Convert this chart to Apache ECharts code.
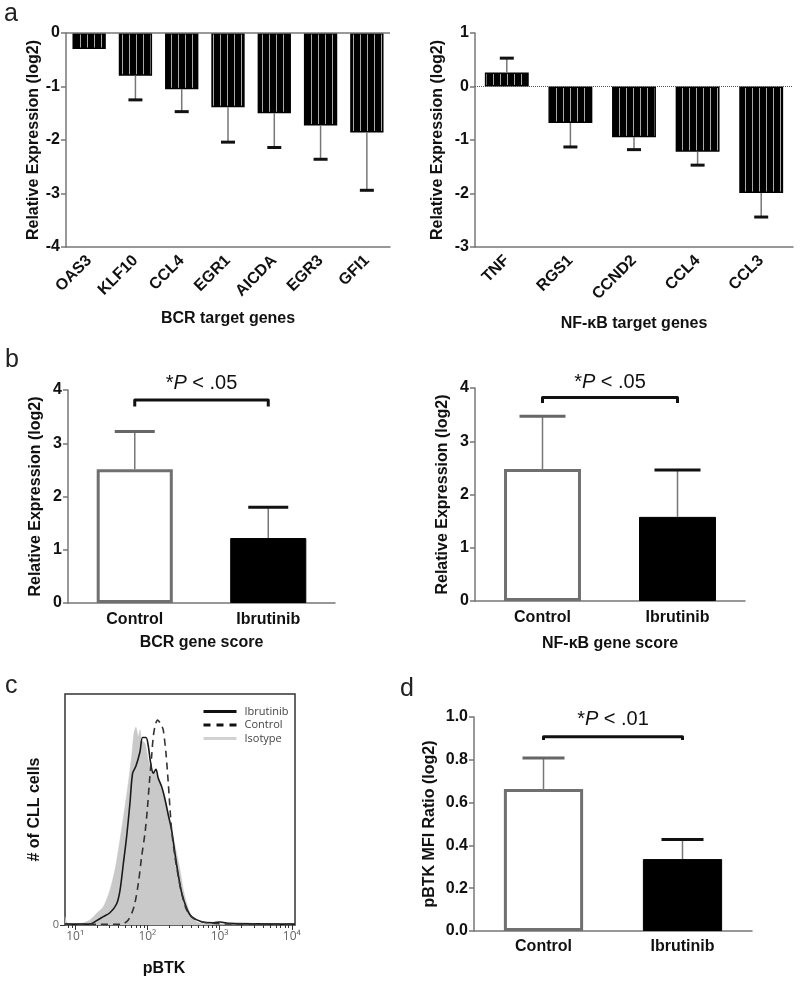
<!DOCTYPE html>
<html><head><meta charset="utf-8">
<script src="https://cdn.jsdelivr.net/npm/echarts@6/dist/echarts.min.js"></script>
<style>html,body{margin:0;padding:0;background:#fff}#c{width:800px;height:985px}</style>
</head><body><div id="c"></div>
<script>
// ---------- Panel a (left): BCR target genes ----------
const bcrGenes = ['OAS3','KLF10','CCL4','EGR1','AICDA','EGR3','GFI1'];
const bcrMeans = [-0.30,-0.80,-1.05,-1.39,-1.50,-1.73,-1.86];
const bcrErrEnds = [null,-1.25,-1.47,-2.04,-2.14,-2.36,-2.94];
// ---------- Panel a (right): NF-kB target genes ----------
const nfkbGenes = ['TNF','RGS1','CCND2','CCL4','CCL3'];
const nfkbMeans = [0.26,-0.68,-0.95,-1.22,-1.99];
const nfkbErrEnds = [0.53,-1.13,-1.18,-1.47,-2.44];
// ---------- Panel b ----------
const groups = ['Control','Ibrutinib'];
const bcrScoreMeans = [2.51,1.22];
const bcrScoreErrEnds = [3.22,1.80];
const nfkbScoreMeans = [2.48,1.58];
const nfkbScoreErrEnds = [3.47,2.46];
// ---------- Panel d ----------
const pbtkMeans = [0.663,0.336];
const pbtkErrEnds = [0.808,0.428];
// ---------- P-value labels ----------
const pThresholds = ['.05','.05','.01'];
// ---------- Panel c: pBTK histograms (x = log10 intensity, y = relative count %) ----------
const ibrutinibLog = [0.859,1.205,1.297,1.390,1.482,1.574,1.621,1.667,1.713,1.759,1.796,1.842,1.898,1.934,1.981,2.013,2.045,2.082,2.119,2.151,2.198,2.244,2.290,2.336,2.382,2.429,2.475,2.544,2.613,2.752,2.913,3.006,3.144,4.044];
const ibrutinibCount = [0.4,0.4,1.9,3.6,5.3,9.1,14.9,26.4,38.2,52.7,65.7,68.8,75.0,81.2,81.2,77.5,70.3,65.7,67.4,63.5,59.9,54.4,47.6,41.1,31.0,21.6,14.0,7.2,3.6,1.4,1.0,1.3,0.7,0.4];
const controlLog = [0.859,1.344,1.528,1.644,1.736,1.815,1.875,1.921,1.967,1.999,2.027,2.059,2.082,2.110,2.142,2.175,2.207,2.221,2.258,2.290,2.336,2.382,2.429,2.475,2.544,2.636,2.821,3.190,4.044];
const controlCount = [0.3,0.3,0.3,0.4,2.2,7.9,18.0,29.6,39.7,49.8,61.3,72.9,81.5,86.6,88.7,87.6,85.6,84.4,74.3,61.3,41.1,29.6,20.9,13.7,6.5,2.9,1.0,0.4,0.4];
const isotypeLog = [0.859,0.905,1.067,1.205,1.297,1.390,1.482,1.551,1.621,1.690,1.736,1.782,1.815,1.842,1.875,1.898,1.921,1.967,2.013,2.059,2.105,2.151,2.221,2.267,2.336,2.406,2.452,2.498,2.544,2.613,2.682,2.775,4.044];
const isotypeCount = [3.6,0.7,0.7,2.2,5.1,7.9,15.2,23.8,36.8,51.2,61.3,72.9,83.0,85.6,81.5,84.4,80.1,78.6,71.4,67.1,66.4,62.8,58.4,52.7,41.1,31.0,23.8,15.2,9.4,3.6,1.4,0.7,0.4];
const logMajorTicks = [1,2,3,4];
const supDigits = {1:'¹',2:'²',3:'³',4:'⁴'};

const F = '"Liberation Sans", Arial, sans-serif';
const zip = (a,b) => a.map((v,i)=>[v,b[i]]);
const minorTicks = [];
for (let e=0;e<4;e++) for (let k=2;k<=9;k++){ const v=e+Math.log10(k); if (v>0.86 && v<4.04) minorTicks.push(v); }

// striped fill for panel a bars
const pc = document.createElement('canvas'); pc.width=7; pc.height=8;
const cx = pc.getContext('2d'); cx.fillStyle='#000'; cx.fillRect(0,0,7,8); cx.fillStyle='#a8a8a8'; cx.fillRect(3,0,1,8);
const stripe = {image: pc, repeat: 'repeat'};

const axisGray = '#777';
function yAx(g, min, max, interval, name, nameGap, fmt){
  return {type:'value', gridIndex:g, min, max, interval, name, nameLocation:'middle', nameGap,
    nameTextStyle:{fontFamily:F, fontWeight:'bold', fontSize:16, color:'#111'},
    axisLine:{show:true, lineStyle:{color:axisGray, width:1.5}},
    axisTick:{show:true, length:5, lineStyle:{color:axisGray, width:1.5}},
    axisLabel:{fontFamily:F, fontWeight:'bold', fontSize:16, color:'#111', margin:6, formatter: fmt},
    splitLine:{show:false}};
}
function xCat(g, data, name, nameGap, rotate, margin){
  return {type:'category', gridIndex:g, data, name, nameLocation:'middle', nameGap,
    nameTextStyle:{fontFamily:F, fontWeight:'bold', fontSize:16, color:'#111'},
    axisLine:{onZero:false, lineStyle:{color:axisGray, width:1.5}},
    axisTick:{alignWithLabel:true, length:6, lineStyle:{color:axisGray, width:1.5}},
    axisLabel:{interval:0, rotate, margin, fontFamily:F, fontWeight:'bold', fontSize:16, color:'#111'}};
}
function errSeries(g, means, ends, capHalf, capColors){
  const data=[]; means.forEach((m,i)=>{ if(ends[i]!=null) data.push([i,m,ends[i]]); });
  return {type:'custom', xAxisIndex:g, yAxisIndex:g, data, z:5, silent:true,
    renderItem(params, api){
      const x=api.value(0);
      const p0=api.coord([x,api.value(1)]), p1=api.coord([x,api.value(2)]);
      return {type:'group', children:[
        {type:'line', shape:{x1:p0[0],y1:p0[1],x2:p1[0],y2:p1[1]}, style:{stroke:'#777', lineWidth:1.5}},
        {type:'line', shape:{x1:p1[0]-capHalf,y1:p1[1],x2:p1[0]+capHalf,y2:p1[1]}, style:{stroke:capColors[x], lineWidth:3}}
      ]};
    }};
}
function bracketSeries(g, top, drop, textY, pth){
  return {type:'custom', xAxisIndex:g, yAxisIndex:g, data:[[0,1,top,drop,textY]], z:6, silent:true,
    renderItem(params, api){
      const a=api.coord([api.value(0),api.value(2)]), b=api.coord([api.value(1),api.value(2)]);
      const d=api.coord([api.value(0),api.value(3)]), t=api.coord([api.value(0),api.value(4)]);
      return {type:'group', children:[
        {type:'polyline', shape:{points:[[a[0],d[1]],[a[0],a[1]],[b[0],b[1]],[b[0],d[1]]]}, style:{stroke:'#111', lineWidth:3, fill:null, lineJoin:'round'}},
        {type:'text', x:(a[0]+b[0])/2, y:t[1], style:{text:'{n|*}{i|P}{n| < '+pth+'}', align:'center', verticalAlign:'middle',
          rich:{n:{fontFamily:F, fontSize:20, fill:'#111'}, i:{fontFamily:F, fontSize:20, fontStyle:'italic', fill:'#111'}}}}
      ]};
    }};
}
const twoBar = (means)=>[
  {value:means[0], itemStyle:{color:'#fff', borderColor:'#707070', borderWidth:3}},
  {value:means[1], itemStyle:{color:'#000', borderColor:'#000', borderWidth:1}}];

const hiddenSym = {color:'rgba(0,0,0,0)', borderColor:'rgba(0,0,0,0)', borderWidth:0, opacity:0};
const option = {
  animation:false,
  grid:[
    {left:66, top:33, width:324, height:214},
    {left:475, top:33, width:318, height:214},
    {left:68, top:390, width:267, height:213},
    {left:475, top:388, width:270, height:213},
    {left:65, top:694, width:230, height:231, show:true, borderColor:'#333', borderWidth:1.5},
    {left:474, top:717, width:278, height:214}
  ],
  xAxis:[
    xCat(0, bcrGenes, 'BCR target genes', 64, 45, 11),
    xCat(1, nfkbGenes, 'NF-κB target genes', 69, 45, 11),
    xCat(2, groups, 'BCR gene score', 32, 0, 9),
    xCat(3, groups, 'NF-κB gene score', 35, 0, 9),
    {type:'value', gridIndex:4, position:'bottom', min:0.86, max:4.044, name:'pBTK', nameLocation:'middle', nameGap:36,
      nameTextStyle:{fontFamily:F, fontWeight:'bold', fontSize:16, color:'#111', padding:[0,32,0,0]},
      axisLine:{show:false}, splitLine:{show:false},
      axisTick:{show:true, length:5, customValues:logMajorTicks, lineStyle:{color:'#333', width:1}},
      axisLabel:{customValues:logMajorTicks, formatter:v=>'10'+supDigits[Math.round(v)], fontFamily:'"Open Sans", sans-serif', fontSize:12, color:'#666', margin:6}},
    xCat(5, groups, null, 0, 0, 8),
    {type:'value', gridIndex:4, position:'bottom', offset:0, min:0.86, max:4.044, axisLine:{show:false}, splitLine:{show:false},
      axisTick:{show:true, length:3, customValues:minorTicks, lineStyle:{color:'#333', width:1}},
      axisLabel:{show:false}}
  ],
  yAxis:[
    yAx(0,-4,0,1,'Relative Expression (log2)',24),
    yAx(1,-3,1,1,'Relative Expression (log2)',29),
    yAx(2,0,4,1,'Relative Expression (log2)',24),
    yAx(3,0,4,1,'Relative Expression (log2)',24),
    {type:'value', gridIndex:4, min:0, max:100, name:'# of CLL cells', nameLocation:'middle', nameGap:22,
      nameTextStyle:{fontFamily:F, fontWeight:'bold', fontSize:16, color:'#111'},
      axisLine:{show:false}, splitLine:{show:false},
      axisTick:{show:true, length:5, customValues:[0], lineStyle:{color:'#333'}},
      axisLabel:{customValues:[0], formatter:()=> '0', fontFamily:'"Open Sans", sans-serif', fontSize:11, color:'#666', margin:6}},
    yAx(5,0,1,0.2,'pBTK MFI Ratio (log2)',36, v=>v.toFixed(1))
  ],
  legend:{orient:'vertical', left:197, top:701, itemWidth:33, itemHeight:10, itemGap:2.5, selectedMode:false,
    textStyle:{fontFamily:'"Open Sans", sans-serif', fontSize:11, color:'#444', padding:[0,0,0,3]},
    data:[
      {name:'Ibrutinib', itemStyle:hiddenSym, lineStyle:{width:3, color:'#111', type:'solid'}},
      {name:'Control', itemStyle:hiddenSym, lineStyle:{width:3, color:'#111', type:[7,6]}},
      {name:'Isotype', itemStyle:hiddenSym, lineStyle:{width:3, color:'#d2d2d2', type:'solid'}}
    ]},
  graphic:[
    {type:'text', left:4, top:2, style:{text:'a', fontFamily:F, fontSize:25, fill:'#222'}},
    {type:'text', left:5, top:348, style:{text:'b', fontFamily:F, fontSize:25, fill:'#222'}},
    {type:'text', left:5, top:674, style:{text:'c', fontFamily:F, fontSize:25, fill:'#222'}},
    {type:'text', left:400, top:677, style:{text:'d', fontFamily:F, fontSize:25, fill:'#222'}}
  ],
  series:[
    {type:'bar', xAxisIndex:0, yAxisIndex:0, data:bcrMeans, barWidth:'72%',
      itemStyle:{color:stripe, borderColor:'#000', borderWidth:1.5},
      markLine:{silent:true, symbol:'none', label:{show:false}, lineStyle:{type:'solid', color:axisGray, width:1.5}, data:[{yAxis:0}]}},
    errSeries(0, bcrMeans, bcrErrEnds, 7, bcrGenes.map(()=> '#111')),
    {type:'bar', xAxisIndex:1, yAxisIndex:1, data:nfkbMeans, barWidth:'69%',
      itemStyle:{color:stripe, borderColor:'#000', borderWidth:1.5},
      markLine:{silent:true, symbol:'none', label:{show:false}, lineStyle:{type:'dotted', color:'#555', width:1}, data:[{yAxis:0}]}},
    errSeries(1, nfkbMeans, nfkbErrEnds, 7, nfkbGenes.map(()=> '#111')),
    {type:'bar', xAxisIndex:2, yAxisIndex:2, data:twoBar(bcrScoreMeans), barWidth:'57%'},
    errSeries(2, bcrScoreMeans, bcrScoreErrEnds, 20, ['#666','#111']),
    bracketSeries(2, 3.81, 3.69, 4.13, pThresholds[0]),
    {type:'bar', xAxisIndex:3, yAxisIndex:3, data:twoBar(nfkbScoreMeans), barWidth:'57%'},
    errSeries(3, nfkbScoreMeans, nfkbScoreErrEnds, 23, ['#666','#111']),
    bracketSeries(3, 3.82, 3.72, 4.11, pThresholds[1]),
    {name:'Isotype', type:'line', xAxisIndex:4, yAxisIndex:4, data:zip(isotypeLog, isotypeCount), symbol:'none', smooth:0.3,
      lineStyle:{width:0.5, color:'#c9c9c9'}, areaStyle:{color:'#c9c9c9', opacity:1}, z:2},
    {name:'Ibrutinib', type:'line', xAxisIndex:4, yAxisIndex:4, data:zip(ibrutinibLog, ibrutinibCount), symbol:'none', smooth:0.3,
      lineStyle:{width:1.6, color:'#1a1a1a'}, z:3},
    {name:'Control', type:'line', xAxisIndex:4, yAxisIndex:4, data:zip(controlLog, controlCount), symbol:'none', smooth:0.3,
      lineStyle:{width:1.6, color:'#333', type:[7,5]}, z:4},
    {type:'bar', xAxisIndex:5, yAxisIndex:5, data:twoBar(pbtkMeans), barWidth:'57%'},
    errSeries(5, pbtkMeans, pbtkErrEnds, 21, ['#666','#111']),
    bracketSeries(5, 0.908, 0.892, 0.99, pThresholds[2])
  ]
};
const chart = echarts.init(document.getElementById('c'), null, {renderer:'canvas'});
chart.setOption(option);
</script></body></html>
